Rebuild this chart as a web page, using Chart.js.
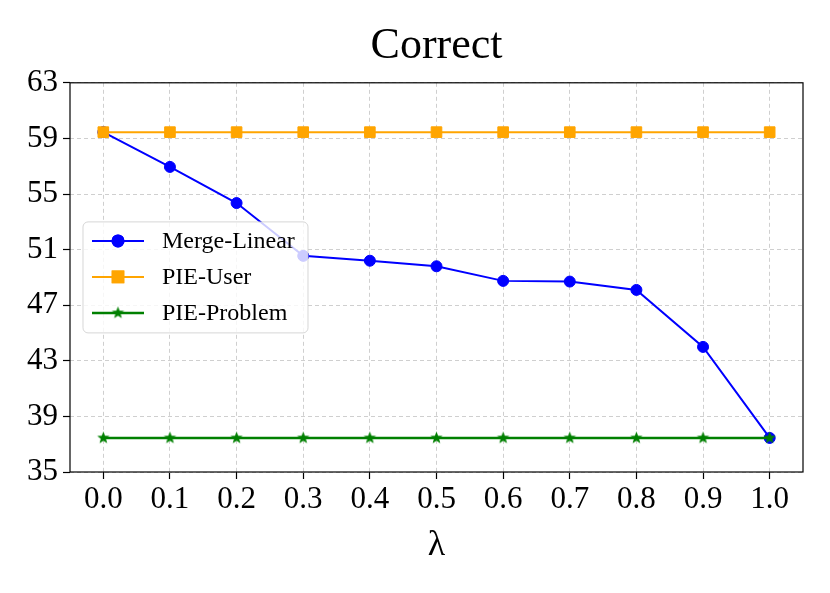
<!DOCTYPE html>
<html>
<head>
<meta charset="utf-8">
<script src="https://cdn.jsdelivr.net/npm/chart.js@4.4.1/dist/chart.umd.min.js"></script>
<style>
  html, body { margin: 0; padding: 0; background: #fff; }
  #wrap { width: 830px; height: 593px; }
</style>
</head>
<body>
<div id="wrap"><canvas id="myChart" width="830" height="593"></canvas></div>
<script>
const lambdas = ['0.0', '0.1', '0.2', '0.3', '0.4', '0.5', '0.6', '0.7', '0.8', '0.9', '1.0'];
const mergeLinear = [59.45, 56.95, 54.35, 50.55, 50.2, 49.8, 48.75, 48.7, 48.1, 44.0, 37.45];
const pieUser = [59.45, 59.45, 59.45, 59.45, 59.45, 59.45, 59.45, 59.45, 59.45, 59.45, 59.45];
const pieProblem = [37.45, 37.45, 37.45, 37.45, 37.45, 37.45, 37.45, 37.45, 37.45, 37.45, 37.45];
const yMin = 35, yMax = 63, yStep = 4;

const serif = "'Liberation Serif', 'DejaVu Serif', serif";

// filled five point star, like matplotlib '*'
function makeStar(color, r) {
    const c = document.createElement('canvas');
    const s = Math.ceil(r * 2 + 2);
    c.width = s; c.height = s;
    const g = c.getContext('2d');
    g.fillStyle = color;
    g.beginPath();
    for (let i = 0; i < 10; i++) {
        const rad = i % 2 === 0 ? r : r * 0.42;
        const a = -Math.PI / 2 + i * Math.PI / 5;
        const px = s / 2 + rad * Math.cos(a), py = s / 2 + rad * Math.sin(a);
        if (i === 0) g.moveTo(px, py); else g.lineTo(px, py);
    }
    g.closePath();
    g.fill();
    return c;
}
const star = makeStar('#008000', 6.5);

const frameAndLegend = {
    id: 'frameAndLegend',
    afterDraw(chart) {
        const ctx = chart.ctx;
        const ca = chart.chartArea;
        ctx.save();
        ctx.strokeStyle = '#000';
        ctx.lineWidth = 1.2;
        ctx.setLineDash([]);
        ctx.strokeRect(ca.left, ca.top, ca.right - ca.left, ca.bottom - ca.top);

        // legend, center left inside the plot
        const bw = 225, bh = 111;
        const bx = ca.left + 13;
        const by = (ca.top + ca.bottom) / 2 - bh / 2;
        ctx.beginPath();
        ctx.roundRect(bx, by, bw, bh, 5);
        ctx.fillStyle = 'rgba(255,255,255,0.8)';
        ctx.fill();
        ctx.strokeStyle = 'rgba(204,204,204,0.8)';
        ctx.lineWidth = 1;
        ctx.stroke();

        ctx.font = '24px ' + serif;
        ctx.textBaseline = 'middle';
        ctx.textAlign = 'left';
        chart.data.datasets.forEach((ds, i) => {
            const y = by + 19 + i * 36;
            ctx.beginPath();
            ctx.strokeStyle = ds.borderColor;
            ctx.lineWidth = ds.borderWidth;
            ctx.moveTo(bx + 9, y);
            ctx.lineTo(bx + 61, y);
            ctx.stroke();
            Chart.helpers.drawPoint(ctx, {
                pointStyle: ds.pointStyle,
                radius: ds.pointRadius,
                borderWidth: 1,
                rotation: 0
            }, bx + 35, y);
            ctx.fillStyle = ds.pointBackgroundColor;
            ctx.strokeStyle = ds.pointBorderColor;
            if (ds.pointStyle !== star) {
                ctx.fill();
                ctx.stroke();
            }
            ctx.fillStyle = '#000';
            ctx.fillText(ds.label, bx + 79, y + 1);
        });
        ctx.restore();
    }
};

const ctx = document.getElementById('myChart').getContext('2d');
const myChart = new Chart(ctx, {
    type: 'line',
    data: {
        labels: lambdas,
        datasets: [
            {
                label: 'Merge-Linear',
                data: mergeLinear,
                borderColor: '#0000ff',
                backgroundColor: '#0000ff',
                pointBackgroundColor: '#0000ff',
                pointBorderColor: '#0000ff',
                borderWidth: 2,
                pointStyle: 'circle',
                pointRadius: 5.5,
                pointBorderWidth: 1,
                order: 3
            },
            {
                label: 'PIE-User',
                data: pieUser,
                borderColor: '#ffa500',
                backgroundColor: '#ffa500',
                pointBackgroundColor: '#ffa500',
                pointBorderColor: '#ffa500',
                borderWidth: 2,
                pointStyle: 'rect',
                pointRadius: 7.5,
                pointBorderWidth: 1,
                order: 2
            },
            {
                label: 'PIE-Problem',
                data: pieProblem,
                borderColor: '#008000',
                backgroundColor: '#008000',
                pointBackgroundColor: '#008000',
                pointBorderColor: '#008000',
                borderWidth: 2.5,
                pointStyle: star,
                pointRadius: 6,
                order: 1
            }
        ]
    },
    options: {
        responsive: false,
        animation: false,
        layout: { padding: { left: 0, right: 27, top: 0, bottom: 0 } },
        plugins: {
            legend: { display: false },
            tooltip: { enabled: false },
            title: {
                display: true,
                text: 'Correct',
                fullSize: false,
                color: '#000',
                font: { family: serif, size: 44, weight: 'normal' },
                padding: { top: 20, bottom: 10 }
            }
        },
        scales: {
            x: {
                type: 'category',
                offset: true,
                afterFit(scale) { scale.height = 121; },
                grid: {
                    color: '#cfcfcf',
                    lineWidth: 1,
                    drawTicks: true,
                    tickLength: 7,
                    tickColor: '#000',
                    tickWidth: 1.2,
                    tickBorderDash: []
                },
                border: { display: false, dash: [4, 3] },
                ticks: {
                    color: '#000',
                    padding: 2,
                    maxRotation: 0,
                    font: { family: serif, size: 31 }
                },
                title: {
                    display: true,
                    text: 'λ',
                    color: '#000',
                    font: { family: serif, size: 36 },
                    padding: { top: 6, bottom: 26 }
                }
            },
            y: {
                min: yMin,
                max: yMax,
                afterFit(scale) { scale.width = 70; },
                grid: {
                    color: '#cfcfcf',
                    lineWidth: 1,
                    drawTicks: true,
                    tickLength: 7,
                    tickColor: '#000',
                    tickWidth: 1.2,
                    tickBorderDash: []
                },
                border: { display: false, dash: [4, 3] },
                ticks: {
                    stepSize: yStep,
                    color: '#000',
                    padding: 5,
                    font: { family: serif, size: 31 }
                }
            }
        }
    },
    plugins: [frameAndLegend]
});
</script>
</body>
</html>
